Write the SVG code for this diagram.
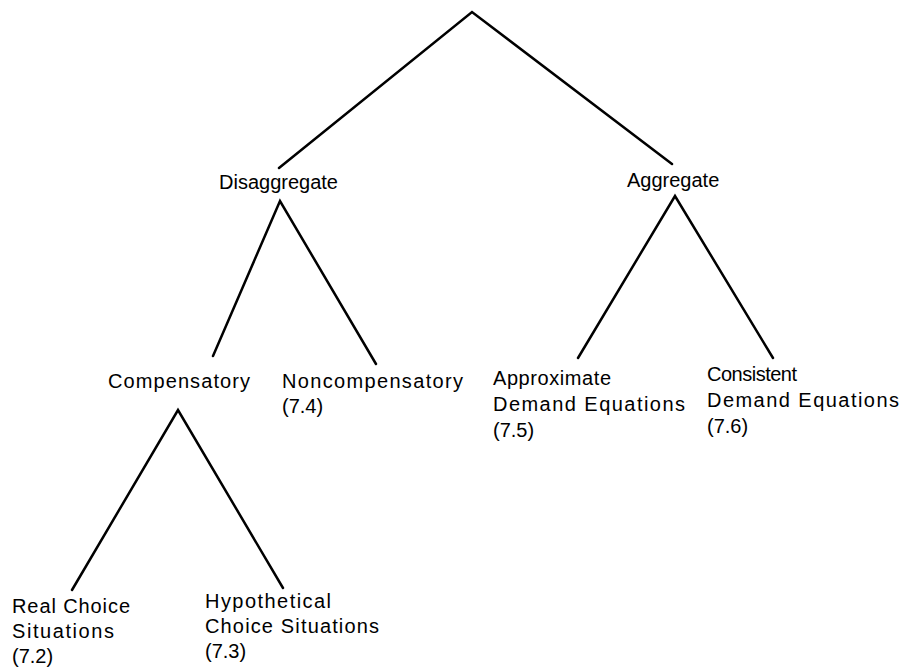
<svg xmlns="http://www.w3.org/2000/svg" width="905" height="667" viewBox="0 0 905 667">
<style>
.e{stroke:#000;stroke-width:2.5;fill:none;stroke-linecap:round;stroke-linejoin:miter}
text{font-family:"Liberation Sans",Arial,sans-serif;font-size:20px;fill:#000}
</style>
<rect width="905" height="667" fill="#fff"/>
<g id="connectors">
<polyline class="e" points="279,168 472,12 672,164"/>
<polyline class="e" points="213,356 280,201 376,364"/>
<polyline class="e" points="578,358 675,196 773,358"/>
<polyline class="e" points="72,590 178,410 283,588"/>
</g>
<g id="disaggregate"><text x="219" y="189">Disaggregate</text></g>
<g id="aggregate"><text x="627" y="187">Aggregate</text></g>
<g id="compensatory"><text x="108" y="388" textLength="142" lengthAdjust="spacing">Compensatory</text></g>
<g id="noncompensatory"><text x="282" y="388" textLength="181" lengthAdjust="spacing">Noncompensatory</text><text x="282" y="413">(7.4)</text></g>
<g id="approximate"><text x="493" y="385" textLength="118" lengthAdjust="spacing">Approximate</text><text x="493" y="411" textLength="192" lengthAdjust="spacing">Demand Equations</text><text x="493" y="437">(7.5)</text></g>
<g id="consistent"><text x="707" y="381" textLength="90" lengthAdjust="spacing">Consistent</text><text x="707" y="407" textLength="192" lengthAdjust="spacing">Demand Equations</text><text x="707" y="433">(7.6)</text></g>
<g id="real"><text x="12" y="613" textLength="118" lengthAdjust="spacing">Real Choice</text><text x="12" y="638" textLength="102" lengthAdjust="spacing">Situations</text><text x="12" y="663">(7.2)</text></g>
<g id="hypothetical"><text x="205" y="608" textLength="126" lengthAdjust="spacing">Hypothetical</text><text x="205" y="633" textLength="174" lengthAdjust="spacing">Choice Situations</text><text x="205" y="658">(7.3)</text></g>
</svg>
